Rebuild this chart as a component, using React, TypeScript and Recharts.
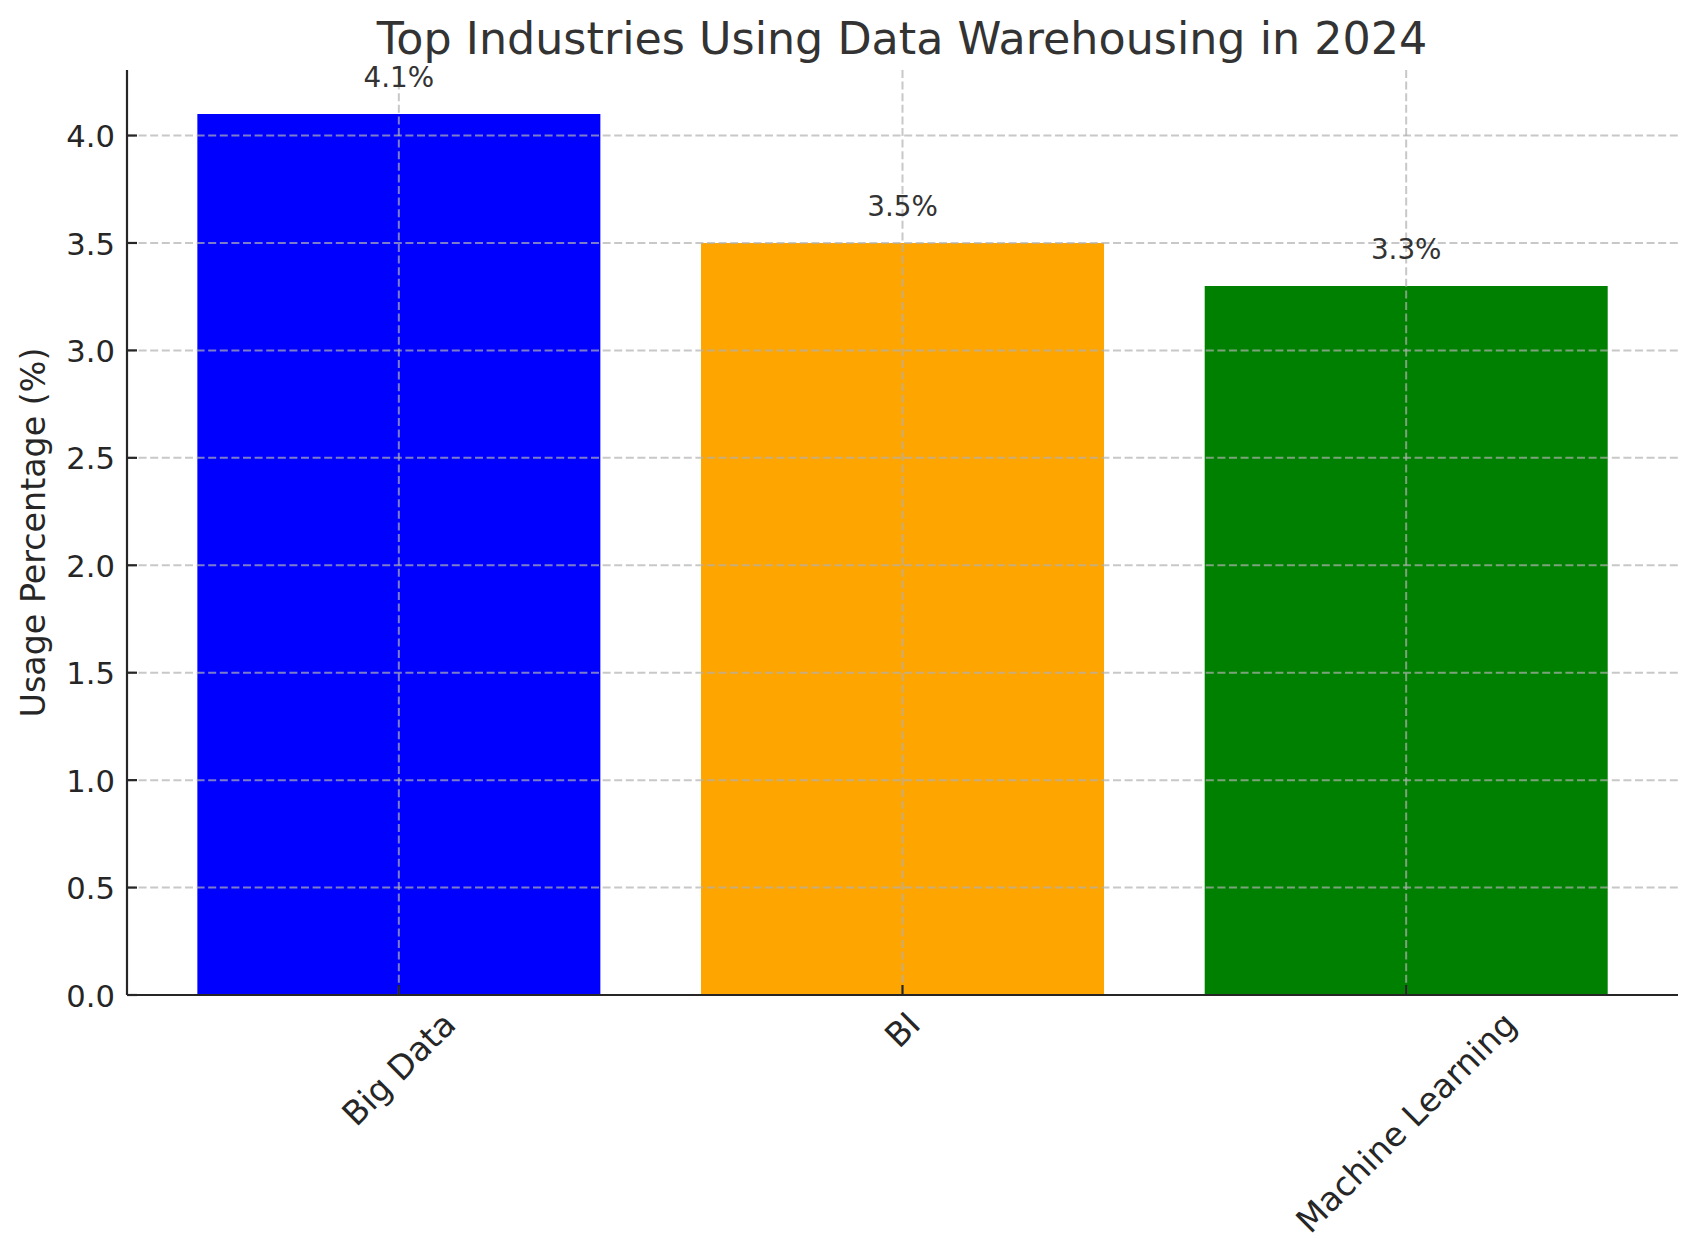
import React from 'react';
import { BarChart, Bar, XAxis, YAxis, CartesianGrid, Cell, LabelList } from 'recharts';

// --- Data ---
const categories = ['Big Data', 'BI', 'Machine Learning'];
const usage = [4.1, 3.5, 3.3];
const barColors = ['#0000ff', '#ffa500', '#008000'];
const yTicks = [0, 0.5, 1.0, 1.5, 2.0, 2.5, 3.0, 3.5, 4.0];

const data = categories.map((name, i) => ({ name, value: usage[i] }));

// --- Styles ---
const FONT = '"DejaVu Sans", sans-serif';
const W = 1697;
const H = 1256;
const AXIS_COLOR = '#262626';
const TEXT_COLOR = '#262626';
const Y_TICK_FONT = 30.6;
const X_TICK_FONT = 33.3;

let measureCtx: CanvasRenderingContext2D | null = null;
function textWidth(s: string, size: number) {
  if (!measureCtx) measureCtx = document.createElement('canvas').getContext('2d');
  if (!measureCtx) return s.length * size * 0.6;
  measureCtx.font = `${size}px "DejaVu Sans"`;
  return measureCtx.measureText(s).width;
}

function YTick(props: any) {
  const { x, y, payload } = props;
  return (
    <g>
      <line x1={x} x2={x + 10} y1={y} y2={y} stroke={AXIS_COLOR} strokeWidth={2.2} />
      <text x={x - 12} y={y} dy="0.38em" textAnchor="end" fontSize={Y_TICK_FONT} fontFamily={FONT} fill={TEXT_COLOR}>
        {Number(payload.value).toFixed(1)}
      </text>
    </g>
  );
}

function XTick(props: any) {
  const { x, y, payload } = props;
  const label = String(payload.value);
  const w = textWidth(label, X_TICK_FONT);
  const h = X_TICK_FONT * 1.05;
  const cy = y + 11 + ((w + h) * Math.SQRT1_2) / 2;
  return (
    <g>
      <line x1={x} x2={x} y1={y} y2={y - 10} stroke={AXIS_COLOR} strokeWidth={2.2} />
      <text
        x={x}
        y={cy}
        textAnchor="middle"
        dominantBaseline="central"
        transform={`rotate(-45, ${x}, ${cy})`}
        fontSize={X_TICK_FONT}
        fontFamily={FONT}
        fill={TEXT_COLOR}
      >
        {label}
      </text>
    </g>
  );
}

function ValueLabel(props: any) {
  const { x, y, width, value } = props;
  return (
    <text x={x + width / 2} y={y - 27} textAnchor="middle" fontSize={27.8} fontFamily={FONT} fill="#333333">
      {`${value}%`}
    </text>
  );
}

export default function App() {
  return (
    <div style={{ position: 'absolute', left: 0, top: 0, width: W, height: H, background: '#fff' }}>
      <BarChart
        width={W}
        height={H}
        data={data}
        margin={{ top: 70, right: 19, left: 0, bottom: 0 }}
        barCategoryGap="10%"
      >
        <Bar dataKey="value" isAnimationActive={false}>
          {data.map((entry, i) => (
            <Cell key={`cell-${i}`} fill={barColors[i % barColors.length]} />
          ))}
          <LabelList dataKey="value" content={<ValueLabel />} />
        </Bar>
        <CartesianGrid
          stroke="#b0b0b0"
          strokeOpacity={0.7}
          strokeWidth={2}
          strokeDasharray="8 3.6"
          syncWithTicks
          zIndex={400}
        />
        <XAxis
          dataKey="name"
          height={261}
          padding={{ left: 20, right: 20 }}
          tickSize={0}
          tickMargin={0}
          tickLine={false}
          tick={<XTick />}
          axisLine={{ stroke: AXIS_COLOR, strokeWidth: 2.2 }}
          interval={0}
        />
        <YAxis
          width={127}
          type="number"
          domain={[0, 4.305]}
          ticks={yTicks}
          tickSize={0}
          tickMargin={0}
          tickLine={false}
          tick={<YTick />}
          axisLine={{ stroke: AXIS_COLOR, strokeWidth: 2.2 }}
          interval={0}
        />
      </BarChart>
      <svg width={W} height={H} style={{ position: 'absolute', left: 0, top: 0, pointerEvents: 'none' }}>
        <text x={902} y={54} textAnchor="middle" fontSize={44.4} fontFamily={FONT} fill="#333333">
          Top Industries Using Data Warehousing in 2024
        </text>
        <text
          x={45}
          y={532.5}
          textAnchor="middle"
          transform="rotate(-90, 45, 532.5)"
          fontSize={33.3}
          fontFamily={FONT}
          fill={TEXT_COLOR}
        >
          Usage Percentage (%)
        </text>
      </svg>
    </div>
  );
}
